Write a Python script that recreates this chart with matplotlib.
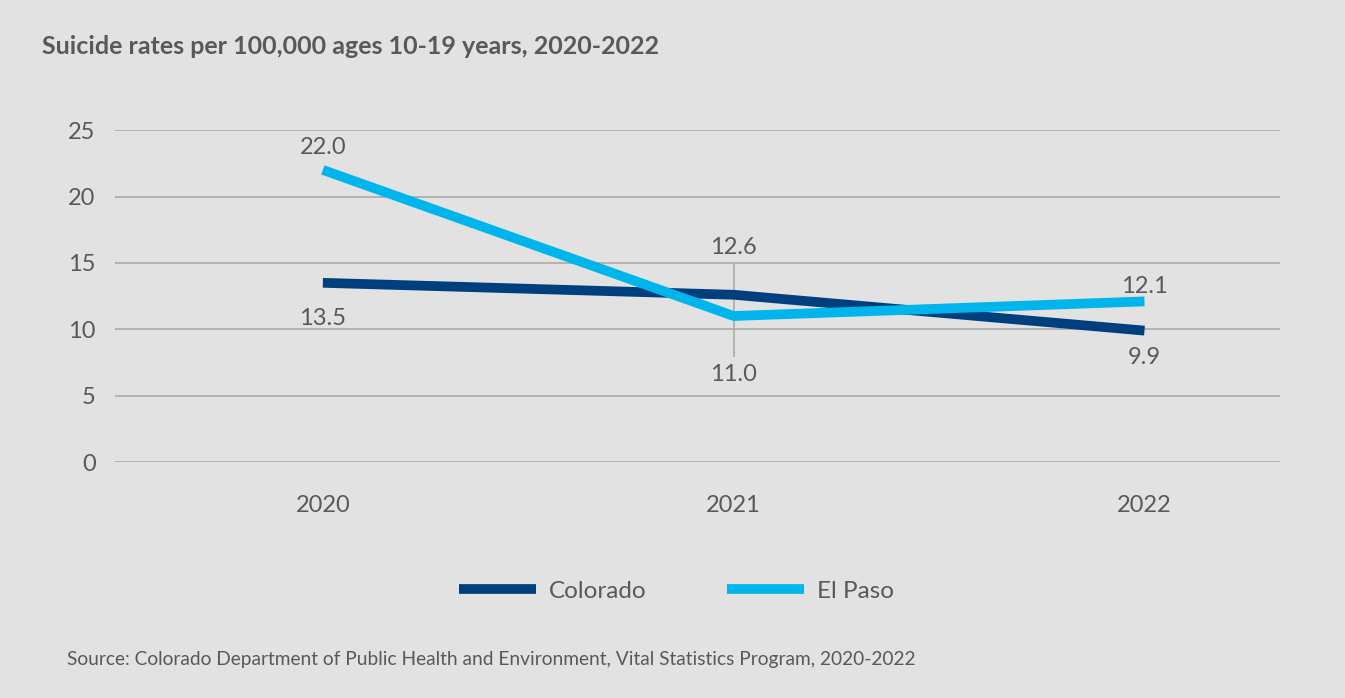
import matplotlib
matplotlib.use("Agg")
import matplotlib.pyplot as plt

# Suicide rates per 100,000, ages 10-19
years = ["2020", "2021", "2022"]
colorado = [13.5, 12.6, 9.9]
el_paso = [22.0, 11.0, 12.1]
y_ticks = [0, 5, 10, 15, 20, 25]

BG = "#e1e2e1"
TEXT = "#595959"
NAVY = "#003f7d"
CYAN = "#00b5ec"
GRID = "#a9aaa9"

plt.rcParams["font.family"] = ["Lato", "DejaVu Sans"]

fig = plt.figure(figsize=(13.45, 6.98), dpi=100, facecolor=BG)
ax = fig.add_axes([0.0855, 0.338, 0.8662, 0.4756])
ax.set_facecolor(BG)

x = list(range(len(years)))
ax.plot(x, colorado, color=NAVY, lw=7, solid_capstyle="butt", label="Colorado", zorder=3)
ax.plot(x, el_paso, color=CYAN, lw=7, solid_capstyle="butt", label="El Paso", zorder=3)

# divider between the 2021 value labels
ax.vlines(1, 7.9, 15.0, color=GRID, lw=1.2, zorder=1)

ax.set_xlim(-0.506, 2.33)
ax.set_ylim(0, 25)
ax.set_yticks(y_ticks)
ax.set_xticks(x)
ax.set_xticklabels(years)
ax.yaxis.grid(True, color=GRID, lw=1.2)
ax.set_axisbelow(True)
for s in ax.spines.values():
    s.set_visible(False)
ax.tick_params(axis="both", length=0, labelsize=17, labelcolor=TEXT)
ax.tick_params(axis="y", pad=14)
ax.tick_params(axis="x", pad=24)

# value labels: (index, value, pixel offset)
def label(i, v, dy):
    ax.annotate(f"{v:.1f}", (i, v), xytext=(0, dy), textcoords="offset pixels",
                ha="center", va="center", fontsize=17, color=TEXT)

label(0, el_paso[0], 22)
label(0, colorado[0], -36)
label(1, colorado[1], 47)
label(1, el_paso[1], -58)
label(2, el_paso[2], 15)
label(2, colorado[2], -27)

leg = fig.legend(loc="center", bbox_to_anchor=(0.503, 1 - 591 / 698), ncol=2,
                 frameon=False, fontsize=17.5, handlelength=3.15, handletextpad=0.55,
                 columnspacing=3.3, labelcolor=TEXT)

fig.text(42 / 1345, 1 - 47 / 698, "Suicide rates per 100,000 ages 10-19 years, 2020-2022",
         fontsize=18, fontweight="bold", color=TEXT, ha="left", va="center")
fig.text(67 / 1345, 1 - 659 / 698,
         "Source: Colorado Department of Public Health and Environment, Vital Statistics Program, 2020-2022",
         fontsize=13.8, color=TEXT, ha="left", va="center")

fig.savefig("out.png", dpi=100, facecolor=BG)
